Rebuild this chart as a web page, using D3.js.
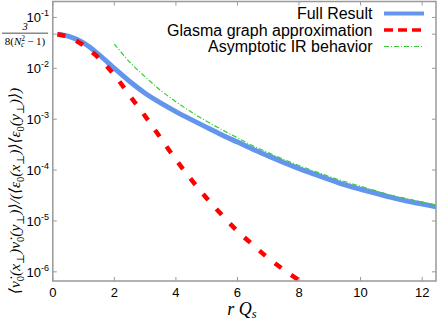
<!DOCTYPE html>
<html>
<head>
<meta charset="utf-8">
<script src="https://cdn.jsdelivr.net/npm/d3@7"></script>
<style>
  body { margin:0; background:#fff; }
  svg { display:block; }
  text { font-family:"Liberation Sans", Arial, sans-serif; fill:#000; }
  .math { font-family:"Liberation Serif", "DejaVu Serif", serif; font-style:italic; }
</style>
</head>
<body>
<svg width="439" height="321"></svg>
<script>
var w = 439, h = 321;

// values
var rFull   = [0.15,0.5,1,1.5,2,2.5,3,3.5,4,4.5,5,5.5,6,6.5,7,7.5,8,8.5,9,9.5,10,10.5,11,11.5,12,12.45];
var full    = [4.68e-2,4.27e-2,3.16e-2,1.86e-2,1.0e-2,5.5e-3,3.24e-3,2.09e-3,1.41e-3,9.8e-4,6.9e-4,4.9e-4,3.55e-4,2.57e-4,1.9e-4,1.41e-4,1.07e-4,8.3e-5,6.5e-5,5.1e-5,4.2e-5,3.5e-5,2.9e-5,2.45e-5,2.15e-5,1.9e-5];
var rGlasma = [0.15,0.5,1,1.5,2,2.5,3,3.5,4,4.5,5,5.5,6,6.5,7,7.5,8,8.2];
var glasma  = [4.68e-2,4.17e-2,2.82e-2,1.58e-2,7.4e-3,2.9e-3,1.15e-3,4.3e-4,1.6e-4,6.5e-5,2.8e-5,1.3e-5,6.3e-6,3.4e-6,1.86e-6,1.1e-6,6.8e-7,5.5e-7];
var rIR     = [2,2.5,3,3.5,4,4.5,5,5.5,6,6.5,7,7.5,8,8.5,9,9.5,10,10.5,11,11.5,12,12.45];
var irAsym  = [3.0e-2,1.32e-2,6.8e-3,3.7e-3,2.2e-3,1.38e-3,9.1e-4,6.2e-4,4.3e-4,3.0e-4,2.2e-4,1.62e-4,1.23e-4,9.5e-5,7.4e-5,5.9e-5,4.8e-5,3.9e-5,3.2e-5,2.75e-5,2.35e-5,2.05e-5];

var xTicks = [0,2,4,6,8,10,12];
var yExp   = [-1,-2,-3,-4,-5,-6];
var nc = 3;
var yMark  = 3/(8*(nc*nc-1));   // the extra tick

var legendNames = ["Full Result","Glasma graph approximation","Asymptotic IR behavior"];
var colors = ["#6495ed","#ff0000","#33cc33"];

var svg = d3.select("svg");
var L = 52.8, R = 436, T = 1.5, B = 281;

var x = d3.scaleLinear().domain([0,12.45]).range([L,R]);
var y = d3.scaleLog().domain([Math.pow(10,-6.18),Math.pow(10,-0.687)]).range([B,T]);

svg.append("clipPath").attr("id","clip")
  .append("rect").attr("x",L).attr("y",T).attr("width",R-L).attr("height",B-T);

// ticks (inward, on all four sides)
var yTickVals = yExp.map(e=>Math.pow(10,e)).concat([yMark]);
var ax = svg.append("g").attr("class","ticks").attr("stroke","#999").attr("stroke-width",1);
xTicks.forEach(function(t){
  ax.append("line").attr("x1",x(t)).attr("x2",x(t)).attr("y1",B).attr("y2",B-4);
  ax.append("line").attr("x1",x(t)).attr("x2",x(t)).attr("y1",T).attr("y2",T+4);
});
yTickVals.forEach(function(t){
  ax.append("line").attr("x1",L).attr("x2",L+4).attr("y1",y(t)).attr("y2",y(t));
  ax.append("line").attr("x1",R).attr("x2",R-4).attr("y1",y(t)).attr("y2",y(t));
});

// x tick labels
svg.append("g").selectAll("text").data(xTicks).join("text")
  .attr("x",d=>x(d)).attr("y",297)
  .attr("text-anchor","middle").attr("font-size",13)
  .text(d=>d);

// y tick labels 10^n
var yl = svg.append("g").selectAll("text").data(yExp).join("text")
  .attr("x",49).attr("y",d=>y(Math.pow(10,d))+5)
  .attr("text-anchor","end").attr("font-size",13);
yl.append("tspan").text("10");
yl.append("tspan").attr("font-size",9).attr("dy",-6).text(d=>"-"+(-d));

// fraction label for 3/(8(Nc^2-1))
var fr = svg.append("g").attr("transform","translate(25,"+(y(yMark)+3)+")");
fr.append("text").attr("class","math").attr("text-anchor","middle").attr("y",-7.5)
  .attr("font-size",10.5).attr("font-style","normal").text("3");
fr.append("line").attr("x1",-23).attr("x2",23).attr("y1",-4).attr("y2",-4).attr("stroke","#000").attr("stroke-width",0.7);
var den = fr.append("text").attr("class","math").attr("text-anchor","middle").attr("y",8).attr("font-size",11);
den.append("tspan").attr("font-style","normal").text("8(");
den.append("tspan").text("N");
den.append("tspan").attr("font-size",7.5).attr("dy",-4).attr("font-style","normal").text("2");
den.append("tspan").attr("font-size",7.5).attr("dy",6).attr("dx",-4).text("c");
den.append("tspan").attr("font-style","normal").attr("dy",-2).text(" \u2212 1)");

// curves
var line = d3.line().x(d=>x(d[0])).y(d=>y(d[1])).curve(d3.curveCatmullRom.alpha(0.5));
var plot = svg.append("g").attr("clip-path","url(#clip)");

plot.append("path").datum(d3.zip(rFull,full))
  .attr("fill","none").attr("stroke",colors[0]).attr("stroke-width",5).attr("d",line);
plot.append("path").datum(d3.zip(rGlasma,glasma))
  .attr("fill","none").attr("stroke",colors[1]).attr("stroke-width",4.5)
  .attr("stroke-dasharray","8,12").attr("d",line);
plot.append("path").datum(d3.zip(rIR,irAsym))
  .attr("fill","none").attr("stroke",colors[2]).attr("stroke-width",1.2)
  .attr("stroke-dasharray","5,2,1,2").attr("d",line);

// frame
svg.append("rect").attr("x",L).attr("y",T).attr("width",R-L).attr("height",B-T)
  .attr("fill","none").attr("stroke","#999").attr("stroke-width",1.5);

// legend
var lg = svg.append("g");
var legY = [13.5,30,46.5];
legendNames.forEach(function(n,i){
  lg.append("text").attr("x",372.5).attr("y",legY[i]+5.5).attr("text-anchor","end")
    .attr("font-size",16).text(n);
  var s = lg.append("line").attr("x1",384).attr("x2",424).attr("y1",legY[i]).attr("y2",legY[i])
    .attr("stroke",colors[i]);
  if(i==0) s.attr("stroke-width",4);
  if(i==1) s.attr("stroke-width",3.5).attr("stroke-dasharray","9,5");
  if(i==2) s.attr("stroke-width",1).attr("stroke-dasharray","5,2,1,2");
});

// axis titles
var xt = svg.append("text").attr("class","math").attr("x",242).attr("y",315)
  .attr("text-anchor","middle").attr("font-size",18);
xt.append("tspan").text("r Q");
xt.append("tspan").attr("font-size",12.5).attr("dy",3).text("s");

var yt = svg.append("text").attr("class","math")
  .attr("transform","translate(20,191) rotate(-90)")
  .attr("text-anchor","middle").attr("font-size",15.5);
var parts = [["\u27E8",0],["\u03BD\u0307",0],["0",1],["(x",0],["\u22A5",1],[")",0],["\u03BD\u0307",0],["0",1],["(y",0],["\u22A5",1],[")\u27E9/(\u27E8\u03B5",0],["0",1],["(x",0],["\u22A5",1],[")\u27E9\u27E8\u03B5",0],["0",1],["(y",0],["\u22A5",1],[")\u27E9)",0]];
var prevSub = 0;
parts.forEach(function(p){
  var t = yt.append("tspan").text(p[0]);
  if(p[1]) t.attr("font-size",10.5).attr("font-style","normal");
  var dy = (p[1]?4:0) - (prevSub?4:0);
  if(dy) t.attr("dy",dy);
  prevSub = p[1];
});
</script>
</body>
</html>
